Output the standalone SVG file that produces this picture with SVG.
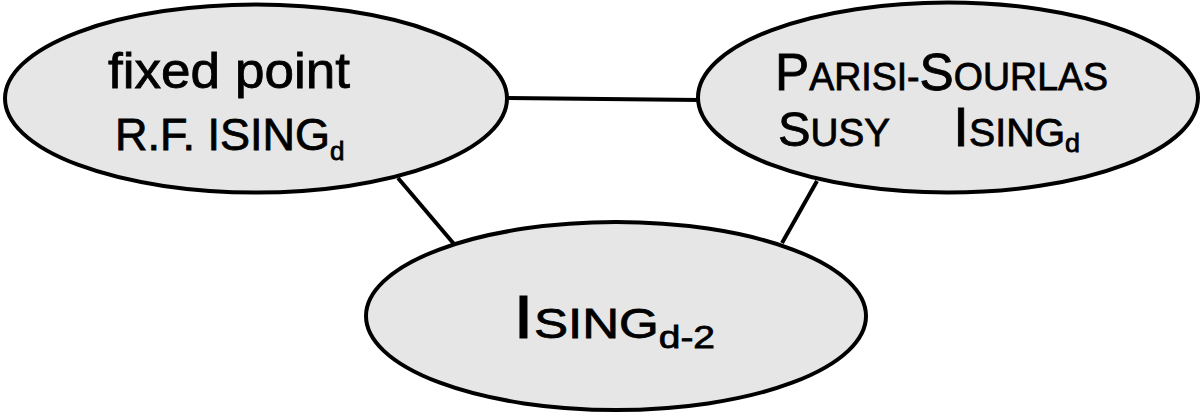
<svg xmlns="http://www.w3.org/2000/svg" width="1202" height="414" viewBox="0 0 1202 414">
<style>
.node{fill:#e6e6e6;stroke:#000;stroke-width:4}
.edge{stroke:#000;stroke-width:4;fill:none}
text{font-family:"Liberation Sans","DejaVu Sans",sans-serif;fill:#000;stroke:#000;stroke-width:0.8}
</style>
<rect width="1202" height="414" fill="#fff"/>
<g id="connectors">
<line class="edge" x1="507" y1="98" x2="700" y2="100"/>
<line class="edge" x1="398" y1="178" x2="454" y2="244"/>
<line class="edge" x1="817" y1="181" x2="782" y2="243"/>
</g>
<g id="node-rf">
<ellipse class="node" cx="256" cy="98.5" rx="251" ry="94"/>
<text x="108" y="88" font-size="50" textLength="242" lengthAdjust="spacingAndGlyphs">fixed point</text>
<text x="115" y="150" font-size="45">R.F. ISING<tspan font-size="26" dy="10">d</tspan></text>
</g>
<g id="node-ps">
<ellipse class="node" cx="948" cy="97.5" rx="250" ry="95"/>
<text x="775" y="90" textLength="333" lengthAdjust="spacingAndGlyphs"><tspan font-size="52">P</tspan><tspan font-size="38">ARISI-</tspan><tspan font-size="52">S</tspan><tspan font-size="38">OURLAS</tspan></text>
<text x="778" y="146" textLength="112" lengthAdjust="spacingAndGlyphs"><tspan font-size="48">S</tspan><tspan font-size="38">USY</tspan></text>
<text x="953" y="146" textLength="127" lengthAdjust="spacingAndGlyphs"><tspan font-size="56">I</tspan><tspan font-size="38">SING</tspan><tspan font-size="26" dy="6">d</tspan></text>
</g>
<g id="node-ising">
<ellipse class="node" cx="616" cy="316" rx="250" ry="94"/>
<text x="513" y="338" textLength="202" lengthAdjust="spacingAndGlyphs"><tspan font-size="62">I</tspan><tspan font-size="42">SING</tspan><tspan font-size="32" dy="10">d-2</tspan></text>
</g>
</svg>
